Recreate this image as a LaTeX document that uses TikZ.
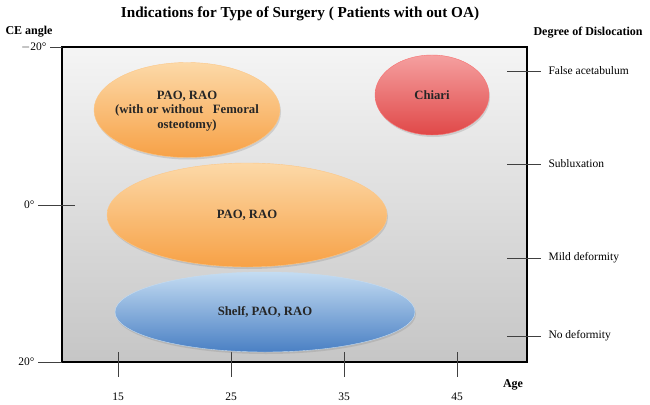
\documentclass[tikz,border=0pt]{standalone}
\usepackage{fontspec}
\setmainfont{Liberation Serif}
\usetikzlibrary{shapes.geometric,shadows}

\definecolor{orangetop}{HTML}{FCD9A8}
\definecolor{orangebot}{HTML}{F7A146}
\definecolor{redtop}{HTML}{F5A0A0}
\definecolor{redbot}{HTML}{E04848}
\definecolor{bluetop}{HTML}{C4DCF2}
\definecolor{bluebot}{HTML}{4A80C4}

\tikzset{
    bubble/.style={ellipse, inner sep=0pt,
        drop shadow={opacity=0.25, shadow xshift=1pt, shadow yshift=-2pt}},
    bubbletext/.style={align=center, font=\fontsize{12.7}{14.5}\selectfont\bfseries, text=black!85},
    orangebubble/.style={bubble, top color=orangetop, bottom color=orangebot, draw=orangetop!80!orange},
    redbubble/.style={bubble, top color=redtop, bottom color=redbot, draw=redtop!70!red},
    bluebubble/.style={bubble, top color=bluetop, bottom color=bluebot, draw=bluetop},
    tick/.style={line width=0.8pt, black!75},
    axislabel/.style={font=\fontsize{11.5}{13}\selectfont},
    headlabel/.style={font=\fontsize{12}{14}\selectfont\bfseries}
}

\begin{document}
\begin{tikzpicture}[x=1pt, y=-1pt]
    \useasboundingbox (0,0) rectangle (650,404);

    % Title and axis headings
    \node[font=\fontsize{15.2}{18}\selectfont\bfseries] (title) at (300,14) {Indications for Type of Surgery ( Patients with out OA)};
    \node[headlabel, anchor=west] (ce) at (2,32) {CE angle};
    \node[headlabel, anchor=west] (dislocation) at (530,33) {Degree of Dislocation};
    \node[headlabel] (age) at (513,385) {Age};

    % --- Frame with grey gradient ---
    \draw[line width=2.5pt, top color=gray!8, bottom color=gray!45] (62,47) rectangle (527,362);

    % Left ticks (CE angle)
    \draw[tick] (50,47) -- (62,47);
    \draw[tick] (38,205) -- (75,205);
    \draw[tick] (38,362) -- (62,362);
    \node[axislabel, anchor=east] (ceneg) at (50,47) {$-$20°};
    \node[axislabel, anchor=east] (cezero) at (38,205) {0°};
    \node[axislabel, anchor=east] (cepos) at (38,362) {20°};

    % Right ticks (degree of dislocation)
    \foreach \yy/\name/\txt in {71/falseac/False acetabulum, 164/sublux/Subluxation,
                                258/mild/Mild deformity, 336/nodef/No deformity} {
        \draw[tick] (507,\yy) -- (541,\yy);
        \node[axislabel, anchor=west] (\name) at (545,\yy) {\txt};
    }

    % Bottom ticks (age)
    \foreach \xx/\val in {118/15, 231/25, 344/35, 457/45} {
        \draw[tick] (\xx,352) -- (\xx,377);
        \node[axislabel] (age\val) at (\xx,397) {\val};
    }

    % --- Indication ellipses ---
    \node[orangebubble, minimum width=186pt, minimum height=95pt] (paotop) at (187,110) {};
    \node[redbubble, minimum width=114pt, minimum height=80pt] (chiari) at (432,95) {};
    \node[orangebubble, minimum width=280pt, minimum height=104pt] (paomid) at (247,215) {};
    \node[bluebubble, minimum width=300pt, minimum height=80pt] (shelf) at (265,312) {};

    % Ellipse texts
    \node[bubbletext] (paotoptext) at ([yshift=-1pt]paotop.center)
        {PAO, RAO\\(with or without\ \ \ Femoral\\osteotomy)};
    \node[bubbletext] (chiaritext) at (chiari.center) {Chiari};
    \node[bubbletext] (paomidtext) at (paomid.center) {PAO, RAO};
    \node[bubbletext] (shelftext) at (shelf.center) {Shelf, PAO, RAO};
\end{tikzpicture}
\end{document}
